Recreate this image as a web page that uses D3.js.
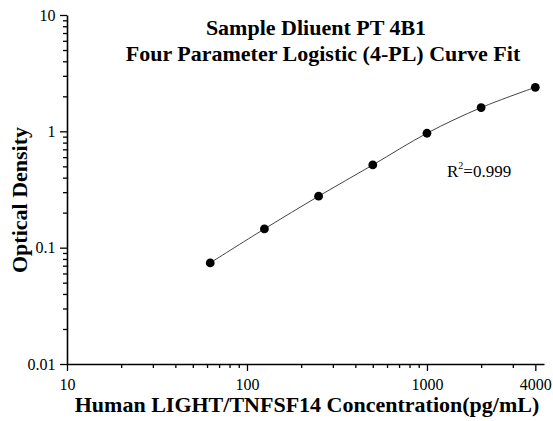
<!DOCTYPE html>
<html>
<head>
<meta charset="utf-8">
<script src="https://cdn.jsdelivr.net/npm/d3@7"></script>
<style>
  body { margin: 0; background: #fff; }
  svg text { font-family: "Liberation Serif", "Times New Roman", serif; fill: #000; }
  .axis path, .axis line { stroke: #000; }
</style>
</head>
<body>
<svg id="chart" width="553" height="421"></svg>
<script>
// standard curve data
var conc = [62.5, 125, 250, 500, 1000, 2000, 4000];
var od = [0.074, 0.145, 0.277, 0.514, 0.963, 1.60, 2.39];
var xTickVals = [10, 100, 1000, 4000];
var yTickVals = [0.01, 0.1, 1, 10];
var titleLines = ["Sample Dliuent PT 4B1", "Four Parameter Logistic (4-PL) Curve Fit"];

function draw(){
  var svg = d3.select("#chart");
  var mLeft = 67, mRight = 544, mTop = 15, mBottom = 364;

  var x = d3.scaleLog().domain([10, 4470]).range([mLeft, mRight]);
  var y = d3.scaleLog().domain([0.01, 10]).range([mBottom, mTop]);

  // minor ticks
  var xMinor = [], yMinor = [];
  [10, 100, 1000].forEach(function(b){
    for (var k = 2; k <= 9; k++) { if (b * k < 4470 && b * k != 4000) xMinor.push(b * k); }
  });
  [0.01, 0.1, 1].forEach(function(b){
    for (var k = 2; k <= 9; k++) yMinor.push(b * k);
  });

  var gx = svg.append("g").attr("class", "axis").attr("transform", "translate(0," + mBottom + ")");
  gx.call(d3.axisBottom(x).tickValues(xTickVals).tickFormat(d3.format("d")).tickSize(7).tickSizeOuter(0));
  gx.append("g").call(d3.axisBottom(x).tickValues(xMinor).tickFormat("").tickSize(4).tickSizeOuter(0))
    .select(".domain").remove();
  gx.select(".domain").attr("stroke-width", 1.6);
  gx.selectAll(".tick line").attr("stroke-width", 1.3);
  gx.selectAll(".tick text").attr("font-size", 16).attr("dy", "1.0em");

  var gy = svg.append("g").attr("class", "axis").attr("transform", "translate(" + mLeft + ",0)");
  gy.call(d3.axisLeft(y).tickValues(yTickVals).tickFormat(function(d){ return d >= 1 ? d3.format("d")(d) : String(d); }).tickSize(7).tickSizeOuter(0));
  gy.append("g").call(d3.axisLeft(y).tickValues(yMinor).tickFormat("").tickSize(4).tickSizeOuter(0))
    .select(".domain").remove();
  gy.select(".domain").attr("stroke-width", 1.6);
  gy.selectAll(".tick line").attr("stroke-width", 1.3);
  gy.selectAll(".tick text").attr("font-size", 16).attr("dx", "-0.1em");

  // fitted curve through points
  var pts = conc.map(function(c, i){ return [x(c), y(od[i])]; });
  svg.append("path")
    .attr("d", d3.line().curve(d3.curveCatmullRom)(pts))
    .attr("fill", "none").attr("stroke", "#444").attr("stroke-width", 1);

  svg.selectAll("circle.pt").data(pts).enter().append("circle")
    .attr("class", "pt")
    .attr("cx", function(d){ return d[0]; })
    .attr("cy", function(d){ return d[1]; })
    .attr("r", 4.4).attr("fill", "#000");

  // title
  svg.append("g").selectAll("text").data(titleLines).enter().append("text")
    .attr("x", function(d, i){ return i == 0 ? 316 : 323; })
    .attr("y", function(d, i){ return 35 + i * 26; })
    .attr("text-anchor", "middle").attr("font-size", 22).attr("font-weight", "bold")
    .text(function(d){ return d; });

  // R squared
  var r2 = svg.append("text").attr("x", 447).attr("y", 177).attr("font-size", 17);
  r2.append("tspan").text("R");
  r2.append("tspan").attr("font-size", 10).attr("dy", -8).text("2");
  r2.append("tspan").attr("dy", 8).text("=0.999");

  // axis labels
  svg.append("text").attr("x", 307).attr("y", 412)
    .attr("text-anchor", "middle").attr("font-size", 22).attr("font-weight", "bold")
    .text("Human LIGHT/TNFSF14 Concentration(pg/mL)");
  svg.append("text").attr("transform", "translate(27,200) rotate(-90)")
    .attr("text-anchor", "middle").attr("font-size", 22).attr("font-weight", "bold")
    .text("Optical Density");
}
draw();
</script>
</body>
</html>
